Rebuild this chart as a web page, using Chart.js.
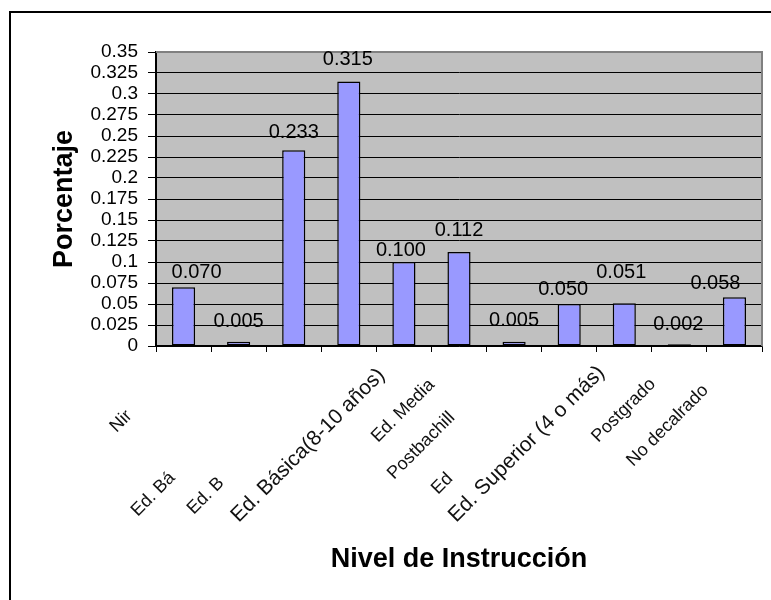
<!DOCTYPE html>
<html lang="es">
<head>
<meta charset="UTF-8">
<title>Nivel de Instrucción</title>
<script src="https://cdn.jsdelivr.net/npm/chart.js"></script>
<style>
  html, body { margin: 0; padding: 0; background: #fff; overflow: hidden; }
  .frame { position: absolute; left: 9px; top: 11px; width: 900px; height: 900px; border: 2px solid #000; }
  .wrap { position: absolute; left: 0; top: 0; width: 771px; height: 600px; }
</style>
</head>
<body>
<div class="frame"></div>
<div class="wrap"><canvas id="chart" width="771" height="600"></canvas></div>
<script>
// visible (clipped) category texts as they appear on the axis
const categories = ['Nir', 'Ed. Bá', 'Ed. B', 'Ed. Básica(8-10 años)', 'Ed. Media', 'Postbachill', 'Ed', 'Ed. Superior (4 o más)', 'Postgrado', 'No decalrado', ''];
const porcentaje = [0.070, 0.005, 0.233, 0.315, 0.100, 0.112, 0.005, 0.050, 0.051, 0.002, 0.058];
const yTicks = [0, 0.025, 0.05, 0.075, 0.1, 0.125, 0.15, 0.175, 0.2, 0.225, 0.25, 0.275, 0.3, 0.325, 0.35];

// label placement tweaks (dx, dy from category centre on the axis), and font sizes
const labelShift = [[-67, 87], [-101, 171], [-100, 169], [-110, 177], [-26, 97], [-65, 134], [-76, 149], [-113, 177], [-26, 97], [-46, 121], [0, 0]];
const labelSize = [18, 18, 18, 21, 18, 18, 18, 21, 18, 18, 18];
// value label tweaks: [dx, gap above bar]
const valueNudge = [[13, 9], [0, 15], [0, 12], [-1, 16], [-3, 6], [0, 16], [0, 16], [-6, 9], [-3, 25], [-1, 14], [-19, 8]];

const FONT = '"Liberation Sans", Arial, sans-serif';
Chart.defaults.font.family = FONT;
Chart.defaults.color = '#000';

const plotBg = {
    id: 'plotBg',
    beforeDraw(chart) {
        const a = chart.chartArea, ctx = chart.ctx;
        ctx.save();
        ctx.fillStyle = '#C0C0C0';
        ctx.fillRect(a.left, a.top, a.right - a.left, a.bottom - a.top);
        ctx.restore();
    },
    afterDatasetsDraw(chart) {
        const a = chart.chartArea, ctx = chart.ctx;
        ctx.save();
        ctx.strokeStyle = '#808080';
        ctx.lineWidth = 2;
        ctx.beginPath();
        ctx.moveTo(a.left, a.top);
        ctx.lineTo(a.right, a.top);
        ctx.lineTo(a.right, a.bottom);
        ctx.stroke();
        ctx.restore();
    }
};

const valueLabels = {
    id: 'valueLabels',
    afterDatasetsDraw(chart) {
        const ctx = chart.ctx;
        const meta = chart.getDatasetMeta(0);
        ctx.save();
        ctx.font = '20px ' + FONT;
        ctx.fillStyle = '#000';
        ctx.textAlign = 'center';
        ctx.textBaseline = 'alphabetic';
        meta.data.forEach((bar, i) => {
            const [dx, gap] = valueNudge[i];
            ctx.fillText(porcentaje[i].toFixed(3), bar.x + dx, bar.y - gap);
        });
        ctx.restore();
    }
};

const xLabels = {
    id: 'xLabels',
    afterDraw(chart) {
        const ctx = chart.ctx;
        const xs = chart.scales.x;
        const y0 = chart.scales.y.getPixelForValue(0);
        categories.forEach((t, i) => {
            if (!t) return;
            const [dx, dy] = labelShift[i];
            ctx.save();
            ctx.translate(xs.getPixelForValue(i) + dx, y0 + dy);
            ctx.rotate(-Math.PI / 4);
            ctx.font = labelSize[i] + 'px ' + FONT;
            ctx.fillStyle = '#111';
            ctx.textAlign = 'left';
            ctx.textBaseline = 'alphabetic';
            ctx.fillText(t, 0, 0);
            ctx.restore();
        });
    }
};

new Chart(document.getElementById('chart'), {
    type: 'bar',
    data: {
        labels: categories,
        datasets: [{
            data: porcentaje,
            backgroundColor: '#9999FF',
            borderColor: '#000',
            borderWidth: 1.5,
            borderSkipped: false,
            barPercentage: 0.42,
            categoryPercentage: 1.0
        }]
    },
    options: {
        responsive: false,
        animation: false,
        layout: { padding: { left: 0, top: 52, right: 9, bottom: 0 } },
        plugins: { legend: { display: false }, tooltip: { enabled: false } },
        scales: {
            x: {
                grid: { drawOnChartArea: false, drawTicks: true, tickLength: 6, color: '#000', offset: true },
                border: { color: '#000', width: 1.5 },
                ticks: { display: false },
                title: {
                    display: true,
                    text: 'Nivel de Instrucción',
                    font: { size: 27, weight: 'bold' },
                    color: '#000',
                    padding: { top: 0, bottom: 24 }
                },
                afterFit(s) { s.height = 254; }
            },
            y: {
                min: 0,
                max: 0.35,
                afterBuildTicks(s) { s.ticks = yTicks.map(v => ({ value: v })); },
                grid: { color: '#000', lineWidth: 1, tickLength: 8 },
                border: { color: '#000', width: 2 },
                ticks: {
                    font: { size: 19 },
                    color: '#000',
                    padding: 10,
                    autoSkip: false,
                    callback: v => String(+v.toFixed(3))
                },
                title: {
                    display: true,
                    text: 'Porcentaje',
                    font: { size: 27, weight: 'bold' },
                    color: '#000',
                    padding: { top: 48, bottom: 0 }
                },
                afterFit(s) { s.width = 156; }
            }
        }
    },
    plugins: [plotBg, valueLabels, xLabels]
});
</script>
</body>
</html>
